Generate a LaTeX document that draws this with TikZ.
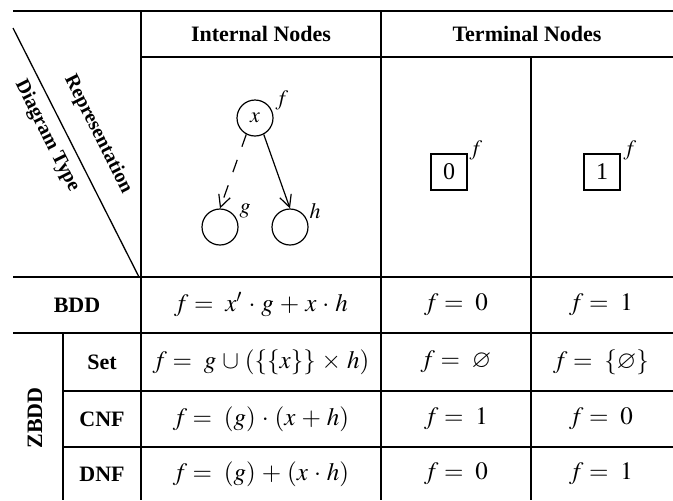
\documentclass[tikz,border=0pt]{standalone}
\usepackage{amssymb}
\usepackage{mathptmx}
\usepackage{fontspec}
\setmainfont{Liberation Serif}
\usepackage{tikz}
\usetikzlibrary{positioning}
\usetikzlibrary{arrows.meta}
\medmuskip=4.3mu plus 2mu minus 4mu\relax

\begin{document}
\begin{tikzpicture}[x=0.5pt, y=-0.5pt, line width=0.65pt,
	headText/.style={font=\fontsize{11}{13}\selectfont\bfseries},
	slantText/.style={font=\fontsize{10}{12}\selectfont\bfseries, rotate=-63.3, inner sep=1pt},
	cellMath/.style={font=\fontsize{12.5}{14}\selectfont},
	bddNode/.style={circle, draw, line width=0.6pt, minimum size=18pt, inner sep=0pt, font=\fontsize{11}{13}\selectfont},
	leafNode/.style={rectangle, draw, line width=0.6pt, minimum size=18pt, inner sep=0pt, font=\fontsize{12}{14}\selectfont},
	nodeLabel/.style={font=\fontsize{11}{13}\selectfont, inner sep=0pt},
	edgeArrow/.style={-{Straight Barb[length=6pt, width=6pt]}, line width=0.6pt}]
	\useasboundingbox (0,0) rectangle (673,500);

	% table rules
	\draw (13,11) -- (673,11);
	\draw (141,57) -- (673,57);
	\draw (13,277) -- (673,277);
	\draw (13,333) -- (673,333);
	\draw (63,391) -- (673,391);
	\draw (63,447) -- (673,447);
	\draw (141,11) -- (141,500);
	\draw (381,11) -- (381,500);
	\draw (531,57) -- (531,500);
	\draw (63,333) -- (63,500);
	\draw (13,28) -- (139,277);

	% corner cell
	\node[slantText](reprText) at (98,134){Representation};
	\node[slantText](typeText) at (47,136){Diagram Type};

	% header
	\node[headText](internalHead) at (261,34){Internal Nodes};
	\node[headText](terminalHead) at (527,34){Terminal Nodes};

	% internal node picture
	\node[bddNode](xNode) at (255,118){$x$};
	\node[bddNode](gNode) at (220,227){};
	\node[bddNode](hNode) at (290,227){};
	\node[nodeLabel](fLabel) at (282,100){$f$};
	\node[nodeLabel](gLabel) at (245,211){$g$};
	\node[nodeLabel](hLabel) at (315,211){$h$};
	\draw[edgeArrow, dash pattern=on 6.5pt off 7pt](xNode.242) -- (gNode.north);
	\draw[edgeArrow](xNode.298) -- (hNode.north);

	% terminal node pictures
	\node[leafNode](zeroLeaf) at (449,172){0};
	\node[leafNode](oneLeaf) at (602,172){1};
	\node[nodeLabel](fZero) at (476,150){$f$};
	\node[nodeLabel](fOne) at (630,150){$f$};

	% row heads
	\node[headText](bddHead) at (77,305){BDD};
	\node[headText, rotate=90](zbddHead) at (35,418){ZBDD};
	\node[headText](setHead) at (102,362){Set};
	\node[headText](cnfHead) at (102,419){CNF};
	\node[headText](dnfHead) at (102,474){DNF};

	% BDD row
	\node[cellMath](bddInt) at (261,305){$f =\ x'\cdot g+x\cdot h$};
	\node[cellMath](bddZero) at (456,305){$f =\ 0$};
	\node[cellMath](bddOne) at (601,305){$f =\ 1$};

	% ZBDD rows
	\node[cellMath](setInt) at (261,362){$f =\ g\cup(\{\{x\}\}\times h)$};
	\node[cellMath](setZero) at (456,362){$f =\ \varnothing$};
	\node[cellMath](setOne) at (601,362){$f =\ \{\varnothing\}$};

	\node[cellMath](cnfInt) at (261,419){$f =\ (g)\cdot(x+h)$};
	\node[cellMath](cnfZero) at (456,419){$f =\ 1$};
	\node[cellMath](cnfOne) at (601,419){$f =\ 0$};

	\node[cellMath](dnfInt) at (261,474){$f =\ (g)+(x\cdot h)$};
	\node[cellMath](dnfZero) at (456,474){$f =\ 0$};
	\node[cellMath](dnfOne) at (601,474){$f =\ 1$};
\end{tikzpicture}
\end{document}
